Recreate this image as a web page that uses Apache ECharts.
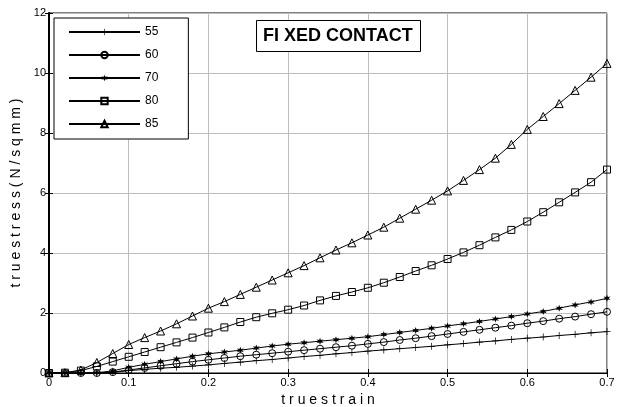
<!DOCTYPE html>
<html>
<head>
<meta charset="utf-8">
<script src="https://cdn.jsdelivr.net/npm/echarts@6/dist/echarts.min.js"></script>
<style>
  html, body { margin: 0; padding: 0; background: #fff; }
  #chart { width: 622px; height: 407px; }
</style>
</head>
<body>
<div id="chart"></div>
<script>
// true strain values (x)
const strain = [0, 0.02, 0.04, 0.06, 0.08, 0.10, 0.12, 0.14, 0.16, 0.18, 0.20, 0.22, 0.24, 0.26, 0.28, 0.30,
  0.32, 0.34, 0.36, 0.38, 0.40, 0.42, 0.44, 0.46, 0.48, 0.50, 0.52, 0.54, 0.56, 0.58, 0.60,
  0.62, 0.64, 0.66, 0.68, 0.70]

// true stress (N/sqmm)
const s55 = [0, 0, 0, 0, 0.02, 0.08, 0.12, 0.16, 0.19, 0.23, 0.27, 0.32, 0.36, 0.41, 0.45, 0.50,
  0.55, 0.59, 0.64, 0.68, 0.73, 0.77, 0.81, 0.85, 0.89, 0.94, 0.98, 1.03, 1.07, 1.12, 1.16,
  1.20, 1.25, 1.29, 1.34, 1.38]
const s60 = [0, 0, 0, 0, 0.03, 0.10, 0.17, 0.24, 0.31, 0.38, 0.44, 0.50, 0.56, 0.61, 0.66, 0.71,
  0.76, 0.81, 0.86, 0.91, 0.97, 1.03, 1.10, 1.16, 1.23, 1.30, 1.37, 1.44, 1.51, 1.58, 1.66,
  1.73, 1.81, 1.88, 1.96, 2.04]
const s70 = [0, 0, 0, 0.01, 0.07, 0.19, 0.29, 0.38, 0.47, 0.56, 0.64, 0.70, 0.76, 0.83, 0.90, 0.96,
  1.01, 1.06, 1.11, 1.16, 1.21, 1.28, 1.35, 1.42, 1.49, 1.57, 1.64, 1.72, 1.80, 1.88, 1.97,
  2.05, 2.16, 2.27, 2.37, 2.49]
const s80 = [0, 0.01, 0.08, 0.22, 0.38, 0.54, 0.70, 0.86, 1.02, 1.18, 1.35, 1.52, 1.70, 1.86, 1.99, 2.11,
  2.25, 2.42, 2.57, 2.70, 2.84, 3.01, 3.20, 3.40, 3.59, 3.80, 4.02, 4.26, 4.52, 4.77, 5.05,
  5.36, 5.69, 6.02, 6.36, 6.78]
const s85 = [0, 0.01, 0.10, 0.35, 0.65, 0.95, 1.18, 1.40, 1.64, 1.90, 2.16, 2.38, 2.62, 2.86, 3.10, 3.34,
  3.58, 3.84, 4.10, 4.34, 4.60, 4.86, 5.16, 5.46, 5.76, 6.07, 6.42, 6.78, 7.16, 7.62, 8.12,
  8.55, 8.98, 9.42, 9.86, 10.32]

const seriesNames = ['55', '60', '70', '80', '85']
const xTicks = [0, 0.1, 0.2, 0.3, 0.4, 0.5, 0.6, 0.7]
const yTicks = [0, 2, 4, 6, 8, 10, 12]

const plusPath = 'path://M4.5,0h1v4.5h4.5v1h-4.5v4.5h-1v-4.5h-4.5v-1h4.5z'
const starPath = 'path://M5,0L6.2,3.2L10,2.5L7.5,5L10,7.5L6.2,6.8L5,10L3.8,6.8L0,7.5L2.5,5L0,2.5L3.8,3.2Z'

const font = 'Liberation Sans, Arial, sans-serif'

function pairs(ys) {
  return strain.map((x, i) => [x, ys[i]])
}

function makeSeries(name, ys, symbol, size, hollow) {
  return {
    name: name,
    type: 'line',
    data: pairs(ys),
    symbol: symbol,
    symbolSize: size,
    showAllSymbol: true,
    animation: false,
    lineStyle: { color: '#000', width: 1 },
    itemStyle: hollow
      ? { color: 'rgba(0,0,0,0)', borderColor: '#000', borderWidth: 1 }
      : { color: '#000', borderWidth: 0 },
    emphasis: { disabled: true }
  }
}

const chart = echarts.init(document.getElementById('chart'), null, { renderer: 'canvas' })

chart.setOption({
  backgroundColor: '#fff',
  textStyle: { fontFamily: font },
  title: {
    text: 'FI XED CONTACT',
    left: 256,
    top: 20,
    padding: [7, 8, 7, 7],
    borderColor: '#000',
    borderWidth: 1,
    backgroundColor: '#fff',
    textStyle: { fontFamily: font, fontSize: 18, fontWeight: 'bold', color: '#000', lineHeight: 18 }
  },
  legend: {
    orient: 'vertical',
    left: 54,
    top: 18,
    padding: [8, 30, 9, 14],
    data: seriesNames,
    itemWidth: 71,
    itemHeight: 8,
    itemGap: 11,
    borderColor: '#000',
    borderWidth: 1,
    backgroundColor: '#fff',
    textStyle: { fontFamily: font, fontSize: 12, color: '#000' },
    selectedMode: false
  },
  grid: {
    left: 49, right: 15, top: 13, bottom: 34,
    outerBoundsMode: 'none',
    containLabel: false,
    show: true, borderColor: '#000', borderWidth: 1
  },
  xAxis: [{
    type: 'value',
    min: xTicks[0],
    max: xTicks[xTicks.length - 1],
    interval: 0.1,
    name: 't r u e s t r a i n',
    nameLocation: 'middle',
    nameGap: 17,
    nameTextStyle: { fontFamily: font, fontSize: 14, color: '#000' },
    axisLine: { show: true, lineStyle: { color: '#000' } },
    axisTick: { inside: true, length: 4, lineStyle: { color: '#000' } },
    axisLabel: { fontFamily: font, fontSize: 11, color: '#000', margin: 4 },
    splitLine: { show: true, lineStyle: { color: '#bdbdbd', width: 1 } }
  }, {
    type: 'value',
    position: 'top',
    min: xTicks[0],
    max: xTicks[xTicks.length - 1],
    interval: 0.1,
    axisLine: { show: true, lineStyle: { color: '#000' } },
    axisTick: { inside: true, length: 4, lineStyle: { color: '#000' } },
    axisLabel: { show: false },
    splitLine: { show: false }
  }],
  yAxis: [{
    type: 'value',
    min: yTicks[0],
    max: yTicks[yTicks.length - 1],
    interval: 2,
    name: 't r u e s t r e s s ( N / s q m m )',
    nameLocation: 'middle',
    nameGap: 22,
    nameTextStyle: { fontFamily: font, fontSize: 14, color: '#000' },
    axisLine: { show: true, lineStyle: { color: '#000' } },
    axisTick: { inside: true, length: 4, lineStyle: { color: '#000' } },
    axisLabel: { fontFamily: font, fontSize: 11, color: '#000', margin: 3 },
    splitLine: { show: true, lineStyle: { color: '#bdbdbd', width: 1 } }
  }, {
    type: 'value',
    position: 'right',
    min: yTicks[0],
    max: yTicks[yTicks.length - 1],
    interval: 2,
    axisLine: { show: true, lineStyle: { color: '#000', width: 2 } },
    axisTick: { inside: true, length: 4, lineStyle: { color: '#000' } },
    axisLabel: { show: false },
    splitLine: { show: false }
  }],
  series: [
    makeSeries('55', s55, plusPath, 7, false),
    makeSeries('60', s60, 'circle', 7, true),
    makeSeries('70', s70, starPath, 7, false),
    makeSeries('80', s80, 'rect', 7, true),
    makeSeries('85', s85, 'triangle', 8, true)
  ]
})
</script>
</body>
</html>
